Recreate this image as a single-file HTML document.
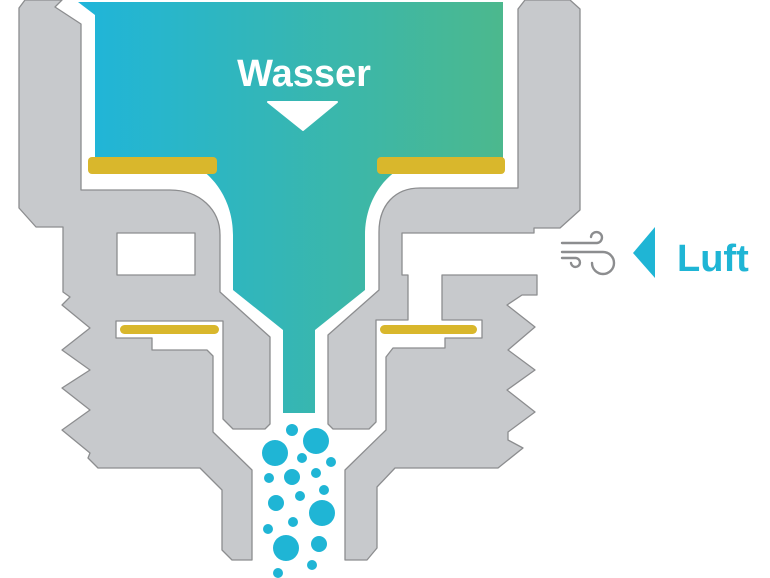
<!DOCTYPE html>
<html><head><meta charset="utf-8"><style>
html,body{margin:0;padding:0;background:#fff;}
svg{display:block;}
</style></head><body>
<svg width="770" height="578" viewBox="0 0 770 578" xmlns="http://www.w3.org/2000/svg">
<defs>
<linearGradient id="w" x1="80" y1="0" x2="505" y2="0" gradientUnits="userSpaceOnUse">
<stop offset="0" stop-color="#1fb5da"/><stop offset="1" stop-color="#4cb88d"/>
</linearGradient>
</defs>
<g fill="#c7c9cc" stroke="#8c8d8f" stroke-width="1.3" stroke-linejoin="round">
<!-- left silhouette -->
<path fill-rule="evenodd" d="M25,0 L62,0 L55,7 L81,24 L81,190 L170,190 C200,190 220,210 220,235 L220,292 L270,337 L270,424 L265,429 L233,429 L223,419 L223,321 L116,321 L116,338 L152,338 L152,350 L207,350 L213,356 L213,432 L252,470 L252,560 L232,560 L222,550 L222,490 L200,468 L98,468 L88,458 L90,453 L62,430 L90,410 L62,388 L90,370 L62,350 L90,328 L62,305 L70,297 L63,292 L63,227 L36,227 L19,208 L19,8 Z M117,233 L195,233 L195,275 L117,275 Z"/>
<!-- right upper + nozzle -->
<path d="M525,0 L570,0 L580,9 L580,210 L560,228 L534,228 L534,233 L402,233 L402,275 L408,275 L408,320 L376,320 L376,422 L369,429 L333,429 L328,424 L328,335 L379,290 L379,232 C379,205 395,188 420,188 L518,188 L518,9 Z"/>
<!-- right lower block -->
<path d="M442,275 L537,275 L537,295 L522,295 L507,305 L535,327 L508,350 L535,370 L507,390 L535,412 L508,432 L508,440 L523,448 L498,468 L395,468 L377,487 L377,548 L367,560 L345,560 L345,470 L386,430 L386,357 L393,348 L445,348 L445,338 L482,338 L482,320 L442,320 Z"/>
</g>
<!-- water -->
<path fill="url(#w)" d="M78,2 L503,2 L503,166 L405,166 C385,175 365,200 365,235 L365,290 L315,330 L315,413 L283,413 L283,330 L233,290 L233,235 C233,200 213,175 195,166 L95,166 L95,15 Z"/>
<g fill="#d9b72c">
<rect x="88" y="157" width="129" height="17" rx="4"/>
<rect x="377" y="157" width="128" height="17" rx="4"/>
<rect x="120" y="325" width="99" height="9" rx="4.5"/>
<rect x="380" y="325" width="97" height="9" rx="4.5"/>
</g>
<text x="304" y="86" text-anchor="middle" font-family="Liberation Sans, sans-serif" font-weight="bold" font-size="38" fill="#fff">Wasser</text>
<path d="M268,102 L337,102 L303,130 Z" fill="#fff" stroke="#fff" stroke-width="2" stroke-linejoin="round"/>
<!-- bubbles -->
<g fill="#1fb5d5">
<circle cx="292" cy="430" r="6"/><circle cx="316" cy="441" r="13"/><circle cx="275" cy="453" r="13"/>
<circle cx="302" cy="458" r="5"/><circle cx="331" cy="462" r="5"/><circle cx="292" cy="477" r="8"/>
<circle cx="269" cy="478" r="5"/><circle cx="316" cy="473" r="5"/><circle cx="324" cy="490" r="5"/>
<circle cx="300" cy="496" r="5"/><circle cx="276" cy="503" r="8"/><circle cx="322" cy="513" r="13"/>
<circle cx="293" cy="522" r="5"/><circle cx="268" cy="529" r="5"/><circle cx="286" cy="548" r="13"/>
<circle cx="319" cy="544" r="8"/><circle cx="312" cy="565" r="5"/><circle cx="278" cy="573" r="5"/>
</g>
<!-- wind icon -->
<g fill="none" stroke="#8c8d8f" stroke-width="2.4" stroke-linecap="round">
<path d="M562,243 L597,243 A5.5,5.5 0 1 0 591,237"/>
<path d="M562,252 L603,252 A11,11 0 1 1 592,263"/>
<path d="M562,258 L576,258 A4.5,4.5 0 1 1 571,263"/>
</g>
<path d="M633,253 L655,227 L655,278 Z" fill="#1fb5d5"/>
<text x="677" y="271" font-family="Liberation Sans, sans-serif" font-weight="bold" font-size="38" fill="#1fb5d5">Luft</text>
</svg>
</body></html>
